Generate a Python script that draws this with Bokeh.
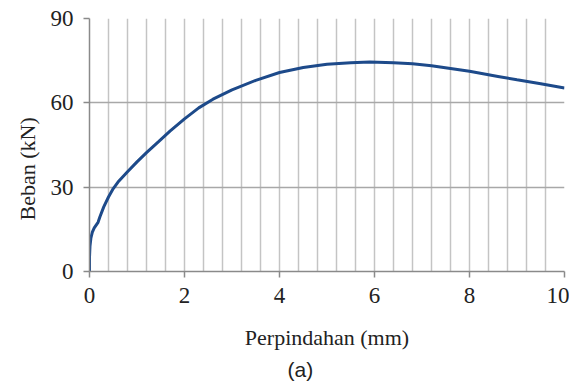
import numpy as np
from bokeh.plotting import figure
from bokeh.models import FixedTicker, Title, Range1d
from bokeh.embed import file_html
from bokeh.resources import INLINE

disp = [0.0, 0.0, 0.01, 0.03, 0.06, 0.1, 0.14, 0.18, 0.22, 0.3, 0.4, 0.5, 0.6, 0.8, 1.0, 1.2, 1.46, 1.7,
        2.0, 2.3, 2.6, 3.0, 3.5, 4.0, 4.5, 5.0, 5.5, 5.9, 6.4, 6.8, 7.2, 7.6, 8.0, 8.6, 9.0, 9.5, 10.0]
load = [0.0, 5.0, 9.0, 12.0, 14.0, 15.5, 16.5, 17.5, 19.5, 23.0, 26.5, 29.5, 31.8, 35.5, 39.0, 42.3, 46.3, 50.0,
        54.3, 58.2, 61.3, 64.6, 68.0, 70.8, 72.6, 73.7, 74.3, 74.5, 74.3, 73.9, 73.2, 72.2, 71.2, 69.4, 68.2, 66.8, 65.3]
x_ticks = [0, 2, 4, 6, 8, 10]
y_ticks = [0, 30, 60, 90]

p = figure(width=569, height=385, output_backend="svg", toolbar_location=None,
           x_range=Range1d(0, 10), y_range=Range1d(0, 90),
           min_border_left=89, min_border_right=5, min_border_top=18, min_border_bottom=114)
p.outline_line_color = None
p.background_fill_color = "white"
p.border_fill_color = "white"

p.line(disp, load, line_color="#1d4a8a", line_width=3)

serif = "Liberation Serif"
for ax in (p.xaxis[0], p.yaxis[0]):
    ax.axis_line_color = "#8a8a8a"
    ax.axis_line_width = 1.5
    ax.major_tick_line_color = "#8a8a8a"
    ax.major_tick_line_width = 1.5
    ax.major_tick_in = 0
    ax.major_tick_out = 6
    ax.minor_tick_line_color = None
    ax.major_label_text_font = serif
    ax.major_label_text_font_size = "23px"
    ax.major_label_text_color = "#222222"
    ax.axis_label_text_font = serif
    ax.axis_label_text_font_size = "22px"
    ax.axis_label_text_font_style = "normal"
    ax.axis_label_text_color = "#222222"

p.xaxis.ticker = FixedTicker(ticks=x_ticks)
p.yaxis.ticker = FixedTicker(ticks=y_ticks)
p.xaxis.axis_label = "Perpindahan (mm)"
p.xaxis.major_label_standoff = 10
p.xaxis.axis_label_standoff = 19
p.yaxis.major_label_standoff = 10

p.add_layout(Title(text="Beban (kN)", align="left", offset=51, standoff=16,
                   text_font=serif, text_font_size="22px", text_color="#222222",
                   text_font_style="normal"), "left")

p.xgrid.ticker = FixedTicker(ticks=[round(0.4 * i, 2) for i in range(26)])
p.xgrid.grid_line_color = "#c4c4c4"
p.xgrid.grid_line_width = 1.5
p.ygrid.ticker = FixedTicker(ticks=y_ticks)
p.ygrid.grid_line_color = "#a8a8a8"
p.ygrid.grid_line_width = 1.5

p.add_layout(Title(text="(a)", align="left", offset=198, standoff=6,
                   text_font="Liberation Sans", text_font_size="21px", text_color="#222222",
                   text_font_style="normal"), "below")

open("out.html", "w").write(file_html(p, INLINE))
